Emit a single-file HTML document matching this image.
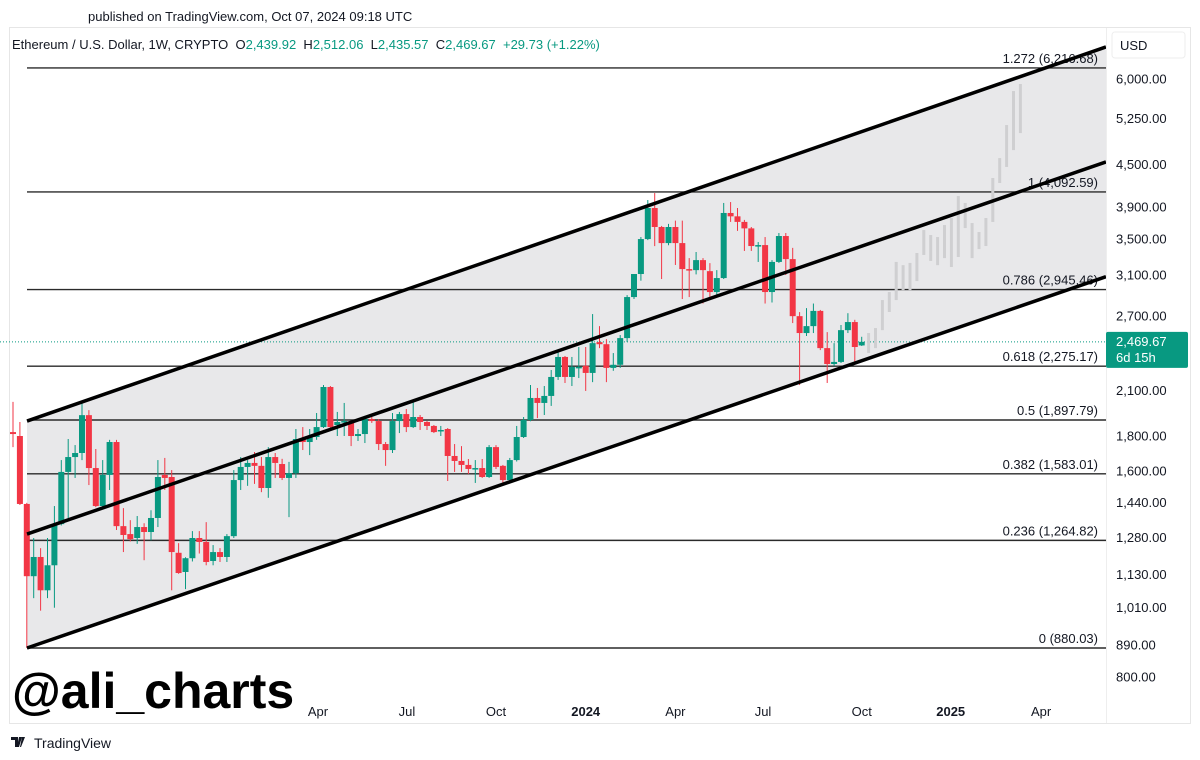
<!DOCTYPE html>
<html><head><meta charset="utf-8"><style>
html,body{margin:0;padding:0;background:#fff;}
svg{display:block;font-family:"Liberation Sans",Arial,sans-serif;}
</style></head><body>
<svg id="chart" width="1200" height="760" viewBox="0 0 1200 760">
  <text x="88" y="21" font-size="13" fill="#131722">published on TradingView.com, Oct 07, 2024 09:18 UTC</text>
  <rect x="9.5" y="27.5" width="1181" height="696" fill="none" stroke="#e6e6e6"/>
  <text x="12" y="49" font-size="13" fill="#131722">Ethereum / U.S. Dollar, 1W, CRYPTO&#160; O<tspan fill="#089981">2,439.92</tspan>&#160; H<tspan fill="#089981">2,512.06</tspan>&#160; L<tspan fill="#089981">2,435.57</tspan>&#160; C<tspan fill="#089981">2,469.67</tspan>&#160; <tspan fill="#089981">+29.73 (+1.22%)</tspan></text>
  <g id="plot"></g>
  <line x1="1106.5" y1="28" x2="1106.5" y2="723" stroke="#eeeeee"/>
  <rect x="1112" y="32" width="73" height="26" rx="3" fill="#fff" stroke="#eeeeee"/>
  <text x="1120" y="50" font-size="13" fill="#131722">USD</text>
  <g id="yaxis"></g>
  <g id="xaxis"></g>
  <text x="12" y="708" font-size="50" font-weight="bold" fill="#000">@ali_charts</text>
  <g>
    <path d="M11 737h7v10h-3v-7h-4z M19 737h3l-3 10h-2z M22 737h3l-4 10h-1z" fill="#131722"/>
    <text x="34" y="748" font-size="14" fill="#131722">TradingView</text>
  </g>
</svg>
<script>
// ---- data ----
const opens  = [1822,1798,1430,1121,1196,1069,1163,1336,1593,1675,1698,1929,1614,1420,1577,1762,1327,1292,1275,1323,1301,1364,1577,1566,1213,1137,1191,1275,1258,1180,1216,1196,1283,1550,1620,1642,1626,1509,1675,1636,1561,1586,1786,1762,1792,1853,2121,1866,1885,1879,1798,1810,1904,1891,1750,1715,1891,1936,1853,1917,1885,1860,1829,1841,1681,1653,1631,1609,1614,1566,1732,1626,1550,1658,1792,1898,2044,2010,2058,2194,2347,2194,2262,2278,2224,2467,2450,2262,2286,2501,2872,3104,3492,3877,3637,3445,3637,3445,3156,3145,3253,3134,2921,3062,3813,3770,3700,3620,3411,3422,2921,3233,3528,3264,2693,2544,2604,2741,2418,2292,2308,2569,2640,2439.92];
const highs  = [2017,1885,1435,1275,1232,1275,1420,1658,1780,1744,2024,1962,1721,1658,1775,1775,1410,1354,1373,1340,1400,1658,1670,1603,1253,1195,1305,1305,1345,1245,1232,1292,1603,1675,1658,1704,1675,1732,1698,1665,1648,1841,1853,1841,1943,2135,2128,1950,2010,1891,1841,1924,1917,1904,1762,1943,1950,1969,2024,1930,1891,1866,1860,1847,1750,1738,1664,1658,1664,1744,1744,1631,1670,1860,1917,2135,2114,2128,2246,2387,2355,2347,2427,2427,2712,2604,2492,2378,2527,2891,3104,3516,3983,4078,3650,3675,3716,3716,3275,3343,3275,3220,3145,3944,3956,3877,3725,3637,3457,3516,3253,3564,3564,3390,2730,2767,2810,2750,2552,2459,2614,2720,2660,2512.06];
const lows   = [1732,1425,880,1041,998,1041,1008,1330,1364,1561,1658,1524,1415,1410,1499,1310,1216,1260,1250,1183,1265,1323,1499,1069,1130,1073,1178,1210,1163,1163,1176,1176,1275,1499,1520,1530,1488,1460,1561,1550,1368,1561,1715,1686,1775,1847,1835,1798,1798,1738,1768,1756,1879,1715,1626,1698,1816,1822,1847,1835,1835,1816,1798,1545,1593,1593,1582,1535,1561,1561,1609,1530,1545,1650,1786,1890,1910,1930,1990,2172,2150,2128,2186,2093,2156,2418,2156,2240,2262,2468,2853,3035,3480,3410,3052,3420,3200,2853,2872,3100,2810,2872,2872,3052,3700,3590,3355,3355,3233,2810,2820,3222,3094,2631,2135,2519,2544,2402,2150,2278,2300,2544,2308,2435.57];
const closes = [1810,1430,1121,1196,1069,1163,1336,1593,1675,1698,1929,1614,1420,1577,1762,1327,1288,1270,1323,1301,1364,1566,1561,1216,1133,1191,1275,1258,1176,1216,1196,1283,1550,1620,1642,1626,1509,1675,1642,1561,1586,1780,1762,1798,1853,2121,1853,1885,1891,1798,1810,1904,1891,1750,1715,1891,1936,1853,1917,1885,1860,1822,1835,1681,1653,1631,1609,1614,1566,1732,1620,1550,1658,1792,1898,2044,2010,2058,2194,2347,2194,2270,2270,2224,2459,2450,2262,2286,2501,2872,3104,3492,3877,3637,3445,3637,3445,3156,3145,3253,3145,2921,3062,3813,3770,3700,3620,3411,3422,2921,3233,3528,3264,2693,2544,2604,2741,2418,2292,2308,2569,2640,2427,2469.67];
const projLows  = [2379,2418,2569,2731,2843,2940,2940,3031,3310,3244,3198,3275,3178,3287,3624,3275,3376,3411,3699,4218,4453,4713,4991];
const projHighs = [2544,2587,2843,2921,3233,3198,3222,3332,3600,3540,3516,3661,3749,4037,3944,3686,3576,3749,4290,4588,5128,5751,5889];
const fibRatios = ["1.272","1","0.786","0.618","0.5","0.382","0.236","0"];
const fibPrices = [6216.68,4092.59,2945.46,2275.17,1897.79,1583.01,1264.82,880.03];
const fibText   = ["6,216.68","4,092.59","2,945.46","2,275.17","1,897.79","1,583.01","1,264.82","880.03"];
const channelStartIdx = 2.03, channelEndIdx = 158.4;
const channelUpper = [1891, 6673];
const channelMiddle = [1292, 4529];
const channelLower = [880, 3076];
const priceTicks = [6000,5250,4500,3900,3500,3100,2700,2100,1800,1600,1440,1280,1130,1010,890,800];
const timeLabels = ["Apr","Jul","Oct","2024","Apr","Jul","Oct","2025","Apr"];
const timeIdx    = [44.2,57.1,70,83,96,108.7,123,135.9,149];
const lastPrice = 2469.67;

// ---- scales ----
const X0 = 13, STEP = 6.9, PLOT_L = 27, PLOT_R = 1106;
const yRef = 648, pRef = 880.03, K = 296.7;
function xs(i){ return X0 + STEP*i; }
function ys(p){ return yRef - K*Math.log(p/pRef); }
const NS = "http://www.w3.org/2000/svg";
function mk(tag, attrs, parent){ const e=document.createElementNS(NS,tag); for(const k in attrs) e.setAttribute(k,attrs[k]); parent.appendChild(e); return e; }
const plot = document.getElementById('plot');

const cu0=[xs(channelStartIdx),ys(channelUpper[0])], cu1=[xs(channelEndIdx),ys(channelUpper[1])];
const cl0=[xs(channelStartIdx),ys(channelLower[0])], cl1=[xs(channelEndIdx),ys(channelLower[1])];
const shade = mk('polygon',{points:`${cu0} ${cu1} ${cl1} ${cl0}`, fill:'#e8e8ea'}, plot);



fibPrices.forEach((p,k)=>{
  const y = ys(p);
  const ln = mk('line',{x1:PLOT_L,x2:PLOT_R,y1:y,y2:y,stroke:'#2a2a2a','stroke-width':1.4}, plot);
  
  
  const t = mk('text',{x:1098,y:y-5,'font-size':13,fill:'#131722','text-anchor':'end'}, plot);
  t.textContent = fibRatios[k]+" ("+fibText[k]+")";
  
  
});

const cy = ys(lastPrice);
const pl = mk('line',{x1:0,x2:PLOT_R,y1:cy,y2:cy,stroke:'#089981','stroke-width':1,'stroke-dasharray':'1 2'}, plot);



for(let i=0;i<opens.length;i++){
  const up = closes[i]>=opens[i];
  const col = up ? '#089981' : '#f23645';
  const x = xs(i);
  const w = mk('line',{x1:x,x2:x,y1:ys(highs[i]),y2:ys(lows[i]),stroke:col,'stroke-width':1}, plot);
  
  
  const top = ys(Math.max(opens[i],closes[i])), bot = ys(Math.min(opens[i],closes[i]));
  const b = mk('rect',{x:x-3,y:top,width:6,height:Math.max(1.5,bot-top),fill:col}, plot);
  
  
}
for(let j=0;j<projLows.length;j++){
  const x = xs(opens.length+j);
  const r = mk('rect',{x:x-1.5,y:ys(projHighs[j]),width:3,height:ys(projLows[j])-ys(projHighs[j]),fill:'#cfcfd1'}, plot);
  
  
}

[[channelUpper,'channel-upper-line'],[channelMiddle,'channel-middle-line'],[channelLower,'channel-lower-line']].forEach(([c,n])=>{
  const l = mk('line',{x1:xs(channelStartIdx),y1:ys(c[0]),x2:xs(channelEndIdx),y2:ys(c[1]),stroke:'#000','stroke-width':3.5}, plot);
  
  
});

const ya = document.getElementById('yaxis');
priceTicks.forEach(p=>{
  const t = mk('text',{x:1116,y:ys(p)+5,'font-size':13,fill:'#131722'}, ya);
  t.textContent = p.toLocaleString('en-US',{minimumFractionDigits:2});
  
  
});
const tag = mk('rect',{x:1106,y:cy-10,width:82,height:36,rx:2,fill:'#089981'}, ya);


const t1 = mk('text',{x:1116,y:cy+4,'font-size':13,fill:'#fff'}, ya);
t1.textContent = lastPrice.toLocaleString('en-US',{minimumFractionDigits:2});


const t2 = mk('text',{x:1116,y:cy+20,'font-size':13,fill:'#fff'}, ya);
t2.textContent = "6d 15h";



const xa = document.getElementById('xaxis');
timeLabels.forEach((s,k)=>{
  const bold = /^\d{4}$/.test(s);
  const t = mk('text',{x:xs(timeIdx[k]),y:716,'font-size':13,fill:'#131722','text-anchor':'middle','font-weight':bold?'bold':'normal'}, xa);
  t.textContent = s;
  
  
});
</script>
</body></html>
